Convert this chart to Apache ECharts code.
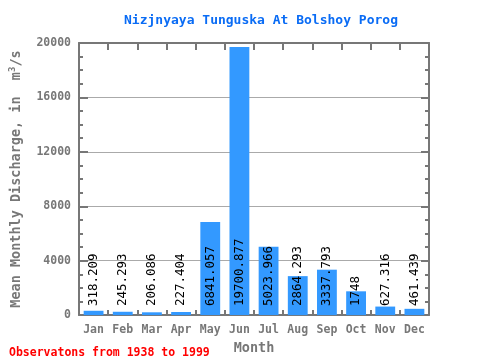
<!DOCTYPE html>
<html><head><meta charset="utf-8">
<script src="https://cdn.jsdelivr.net/npm/echarts@6/dist/echarts.min.js"></script>
<style>html,body{margin:0;padding:0;background:#fff}#c{width:480px;height:360px}</style>
</head><body><div id="c"></div>
<script>
var months = ['Jan','Feb','Mar','Apr','May','Jun','Jul','Aug','Sep','Oct','Nov','Dec'];
var discharge = [318.209, 245.293, 206.086, 227.404, 6841.057, 19700.877, 5023.966, 2864.293, 3337.793, 1748, 627.316, 461.439];
var labelsText = ['318.209','245.293','206.086','227.404','6841.057','19700.877','5023.966','2864.293','3337.793','1748','627.316','461.439'];
var yTicks = [0, 4000, 8000, 12000, 16000, 20000];
var titleText = 'Nizjnyaya Tunguska At Bolshoy Porog';
var noteText = 'Observatons from 1938 to 1999';

var font = 'DejaVu Sans Mono';
var axisCol = '#777777';
var chart = echarts.init(document.getElementById('c'), null, {renderer:'canvas'});
chart.setOption({
  animation: false,
  title: [
    {text: titleText, left: 256, top: 9, textAlign: 'center',
     textStyle: {fontFamily: font, fontSize: 13, fontWeight: 'bold', color: '#0a6cf5'}},
    {text: noteText, left: 4, top: 342,
     textStyle: {fontFamily: font, fontSize: 11.5, fontWeight: 'bold', color: '#ff0000'}}
  ],
  grid: {left: 79, right: 51, top: 43, bottom: 39, containLabel: false},
  xAxis: [
    {type: 'category', data: months, position: 'bottom',
     name: 'Month', nameLocation: 'middle', nameGap: 20,
     nameTextStyle: {fontFamily: font, fontSize: 13.5, fontWeight: 'bold', color: '#777'},
     axisLine: {lineStyle: {color: axisCol, width: 2}},
     axisTick: {show: true, inside: true, interval: 0, length: 5, lineStyle: {color: axisCol, width: 2}},
     axisLabel: {fontFamily: font, fontSize: 11.5, fontWeight: 'bold', color: '#777', margin: 9, interval: 0},
     splitLine: {show: false}},
    {type: 'category', data: months, position: 'top',
     axisLine: {show: true, onZero: false, lineStyle: {color: axisCol, width: 2}},
     axisTick: {show: true, inside: true, interval: 0, length: 7, lineStyle: {color: axisCol, width: 2}},
     axisLabel: {show: false, interval: 0}, splitLine: {show: false}}
  ],
  yAxis: [
    {type: 'value', min: 0, max: 20000, interval: 4000, position: 'left',
     name: 'Mean Monthly Discharge, in  m{sup|3}/s', nameLocation: 'middle', nameGap: 54,
     nameTextStyle: {fontFamily: font, fontSize: 13.5, fontWeight: 'bold', color: '#777',
       rich: {sup: {fontFamily: font, fontSize: 9, fontWeight: 'bold', color: '#777', verticalAlign: 'top', padding: [0,0,8,0]}}},
     axisLine: {show: true, lineStyle: {color: axisCol, width: 2}},
     axisTick: {show: true, inside: true, length: 9, lineStyle: {color: axisCol, width: 2}},
     minorTick: {show: true, splitNumber: 4, length: 4, lineStyle: {color: axisCol, width: 2}},
     axisLabel: {fontFamily: font, fontSize: 11.5, fontWeight: 'bold', color: '#777', margin: 8,
       formatter: function(v){ return String(v); }},
     splitLine: {show: true, lineStyle: {color: '#aaaaaa', width: 1}}},
    {type: 'value', min: 0, max: 20000, interval: 4000, position: 'right',
     axisLine: {show: true, onZero: false, lineStyle: {color: axisCol, width: 2}},
     axisTick: {show: true, inside: true, length: 8, lineStyle: {color: axisCol, width: 2}},
     minorTick: {show: true, splitNumber: 4, length: 4, lineStyle: {color: axisCol, width: 2}},
     axisLabel: {show: false}, splitLine: {show: false}}
  ],
  series: [{
    type: 'bar', data: discharge, barWidth: '68%',
    itemStyle: {color: '#3399ff'},
    label: {show: true, position: 'insideBottom', rotate: 90, align: 'left', verticalAlign: 'middle',
      distance: 9, fontFamily: font, fontSize: 12.5, color: '#000',
      formatter: function(p){ return labelsText[p.dataIndex]; }},
    z: 3
  }, {
    type: 'line', xAxisIndex: 1, yAxisIndex: 1, data: discharge, silent: true,
    showSymbol: false, symbol: 'none', lineStyle: {opacity: 0}, z: 0
  }]
});
</script></body></html>
